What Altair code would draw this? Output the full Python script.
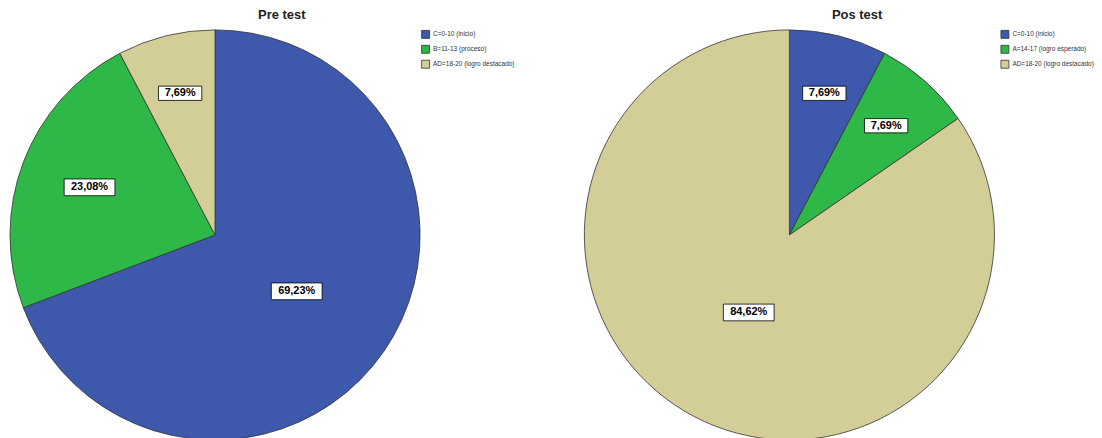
import math
import altair as alt
import pandas as pd

# ---- data ----
categories_pre = ["C=0-10 (inicio)", "B=11-13 (proceso)", "AD=18-20 (logro destacado)"]
values_pre = [69.23, 23.08, 7.69]

categories_pos = ["C=0-10 (inicio)", "A=14-17 (logro esperado)", "AD=18-20 (logro destacado)"]
values_pos = [7.69, 7.69, 84.62]

titles = ["Pre test", "Pos test"]
colors = ["#3E58AC", "#2EB848", "#D3CE97"]

# ---- layout constants (pixels) ----
R = 206
H = 412
BOX_PATH = "M-1,-0.33L1,-0.33L1,0.33L-1,0.33Z"


def pie(cats, vals, title, width, cx, legend_x, title_dx):
    df = pd.DataFrame({"cat": cats, "value": vals, "order": list(range(len(cats)))})
    xdom = [-cx / R, (width - cx) / R]
    ydom = [-H / 2 / R, H / 2 / R]
    xs = alt.Scale(domain=xdom, nice=False, zero=False)
    ys = alt.Scale(domain=ydom, nice=False, zero=False)

    base = (
        alt.Chart(df)
        .transform_window(cum="sum(value)", sort=[alt.SortField("order")], frame=[None, 0])
        .transform_calculate(
            start="datum.cum - datum.value",
            end="datum.cum",
            ang="(datum.cum - datum.value / 2) / 100 * 2 * PI",
            rr="0.74 - 0.37 * datum.value / 100",
            lx="datum.rr * sin(datum.ang)",
            ly="datum.rr * cos(datum.ang)",
            label="replace(format(datum.value, '.2f'), '.', ',') + '%'",
            bsize="pow(7.5 * length(datum.label) + 6, 2)",
        )
    )

    arcs = base.mark_arc(radius=R, stroke="#333333", strokeWidth=0.8).encode(
        x=alt.datum(0, scale=xs, axis=None),
        y=alt.datum(0, scale=ys, axis=None),
        theta=alt.Theta("start:Q", scale=alt.Scale(domain=[0, 100], range=[0, 2 * math.pi])),
        theta2="end:Q",
        color=alt.Color(
            "cat:N",
            scale=alt.Scale(domain=cats, range=colors),
            legend=alt.Legend(
                orient="none",
                legendX=legend_x,
                legendY=0,
                title=None,
                symbolType="square",
                symbolSize=64,
                symbolStrokeColor="#333333",
                symbolStrokeWidth=0.8,
                labelFontSize=6.5,
                labelFont="Liberation Sans",
                labelColor="#333333",
                labelOffset=3,
                rowPadding=2,
            ),
            sort=cats,
        ),
    )

    boxes = base.mark_point(
        shape=BOX_PATH, filled=True, fill="white", stroke="black", strokeWidth=0.8, opacity=1
    ).encode(
        x=alt.X("lx:Q", scale=xs, axis=None),
        y=alt.Y("ly:Q", scale=ys, axis=None),
        size=alt.Size("bsize:Q", scale=None),
    )

    texts = base.mark_text(
        font="Liberation Sans", fontSize=11, fontWeight="bold", color="black"
    ).encode(
        x=alt.X("lx:Q", scale=xs, axis=None),
        y=alt.Y("ly:Q", scale=ys, axis=None),
        text="label:N",
    )

    return alt.layer(arcs, boxes, texts).properties(
        width=width,
        height=H,
        title=alt.Title(title, fontSize=13, fontWeight="bold", font="Liberation Sans",
                        offset=6, dx=title_dx, color="#222222"),
    )


p1 = pie(categories_pre, values_pre, titles[0], 544, 205, 412, 0)
p2 = pie(categories_pos, values_pos, titles[1], 496, 208, 420, 28)

chart = (
    alt.hconcat(p1, p2, spacing=30)
    .resolve_scale(color="independent", x="independent", y="independent", theta="independent", size="independent")
    .configure_view(stroke=None)
    .properties(padding=0, background="white")
)

chart.save("out.html", embed_options={"renderer": "svg", "actions": False})
